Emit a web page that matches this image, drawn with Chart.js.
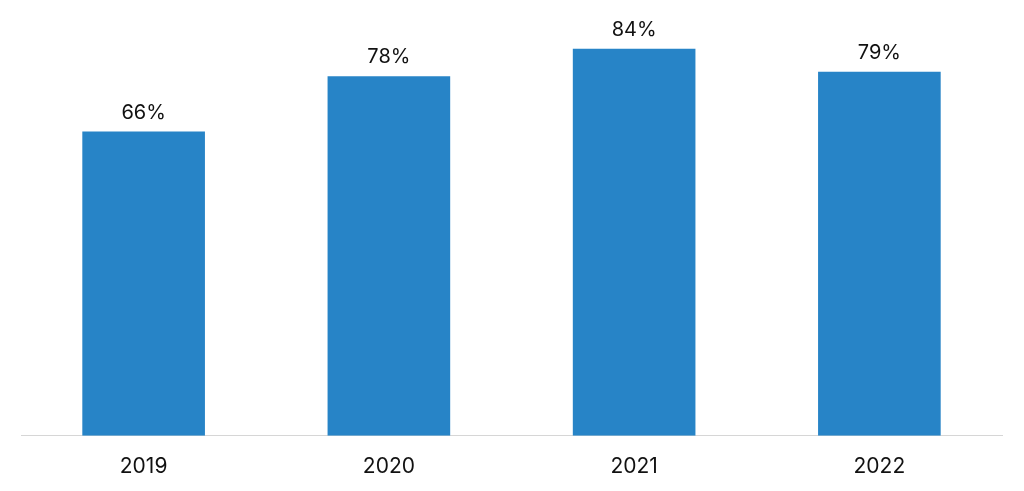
<!DOCTYPE html>
<html>
<head>
<meta charset="utf-8">
<style>
  html, body { margin: 0; padding: 0; background: #ffffff; }
  #wrap { width: 1024px; height: 491px; }
</style>
<script src="https://cdn.jsdelivr.net/npm/chart.js@4"></script>
</head>
<body>
<div id="wrap"><canvas id="c" width="1024" height="491"></canvas></div>
<script>
const categories = ["2019", "2020", "2021", "2022"];
const values = [66, 78, 84, 79];
const valueLabels = ["66%", "78%", "84%", "79%"];

const barLabels = {
  id: 'barLabels',
  afterDatasetsDraw(chart) {
    const ctx = chart.ctx;
    const meta = chart.getDatasetMeta(0);
    ctx.save();
    ctx.font = '20px Inter, "Noto Sans", sans-serif';
    ctx.fillStyle = '#111111';
    ctx.textAlign = 'center';
    ctx.textBaseline = 'alphabetic';
    meta.data.forEach((bar, i) => {
      ctx.fillText(valueLabels[i], bar.x, bar.y - 13);
    });
    ctx.restore();
  }
};

new Chart(document.getElementById('c'), {
  type: 'bar',
  data: {
    labels: categories,
    datasets: [{
      data: values,
      backgroundColor: '#2784C7',
      borderWidth: 0,
      barPercentage: 0.5,
      categoryPercentage: 1.0
    }]
  },
  options: {
    responsive: false,
    animation: false,
    devicePixelRatio: 1,
    layout: { padding: { left: 21, right: 22, top: 21, bottom: -6 } },
    plugins: { legend: { display: false }, tooltip: { enabled: false } },
    scales: {
      x: {
        grid: { display: false, drawTicks: false },
        border: { display: true, color: '#d6d6d6', width: 1 },
        ticks: {
          color: '#111111',
          padding: 18,
          font: { family: 'Inter, "Noto Sans", sans-serif', size: 21 }
        }
      },
      y: {
        display: false,
        min: 0,
        max: 90
      }
    }
  },
  plugins: [barLabels]
});
</script>
</body>
</html>
